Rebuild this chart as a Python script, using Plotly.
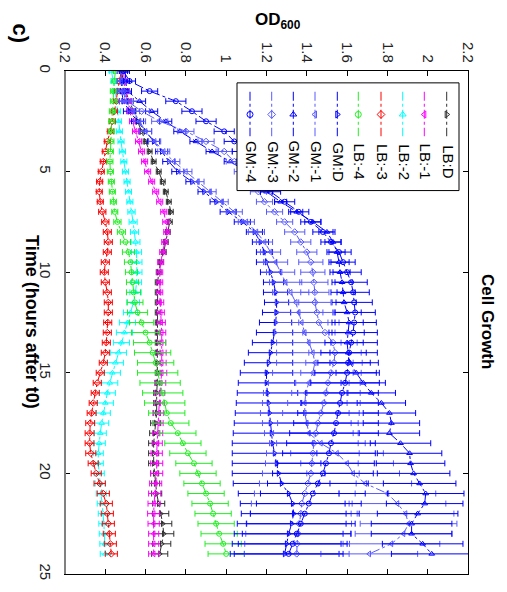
import plotly.graph_objects as go

# ---------------- data ----------------
hours = [0, 0.5, 1, 1.5, 2, 2.5, 3, 3.5, 4, 4.5,
         5, 5.5, 6, 6.5, 7, 7.5, 8, 8.5, 9, 9.5,
         10, 10.5, 11, 11.5, 12, 12.5, 13, 13.5, 14, 14.5,
         15, 15.5, 16, 16.5, 17, 17.5, 18, 18.5, 19, 19.5,
         20, 20.5, 21, 21.5, 22, 22.5, 23, 23.5, 24]

lb_d = [.48, .49, .50, .52, .54, .56, .58, .60, .62, .64,
        .665, .685, .70, .715, .725, .72, .71, .70, .69, .675,
        .665, .66, .66, .66, .66, .66, .66, .66, .66, .66,
        .66, .658, .655, .655, .655, .65, .645, .64, .64, .64,
        .645, .65, .655, .665, .675, .685, .69, .68, .67]
err_lb_d = [.01, .01, .012, .012, .012, .012, .012, .012, .012, .012,
            .012, .012, .012, .012, .012, .012, .012, .012, .012, .012,
            .012, .012, .012, .012, .012, .012, .012, .012, .012, .012,
            .012, .012, .015, .015, .018, .025, .025, .025, .025, .025,
            .02, .02, .025, .03, .04, .045, .05, .045, .04]

lb_1 = [.49, .495, .50, .51, .52, .535, .55, .565, .58, .595,
        .61, .63, .65, .67, .69, .70, .705, .695, .685, .675,
        .67, .67, .67, .672, .675, .678, .68, .68, .68, .68,
        .68, .675, .67, .668, .665, .662, .66, .658, .655, .655,
        .655, .65, .645, .642, .64, .64, .64, .64, .64]
err_lb_1 = [.01, .012, .015, .015, .015, .015, .015, .015, .015, .015,
            .015, .015, .015, .015, .015, .015, .015, .015, .015, .015,
            .015, .015, .015, .018, .018, .02, .02, .02, .022, .022,
            .025, .025, .025, .025, .025, .025, .025, .025, .028, .03,
            .03, .03, .03, .03, .03, .028, .025, .025, .025]

lb_2 = [.43, .44, .45, .455, .46, .465, .47, .478, .485, .492,
        .50, .508, .515, .522, .53, .538, .545, .55, .555, .557,
        .557, .555, .55, .54, .525, .51, .495, .48, .465, .45,
        .435, .422, .41, .40, .39, .382, .375, .37, .365, .365,
        .37, .375, .38, .385, .39, .393, .395, .398, .40]
err_lb_2 = [.01, .012, .015, .015, .015, .015, .015, .015, .015, .015,
            .015, .015, .015, .015, .018, .02, .02, .022, .025, .025,
            .025, .025, .028, .03, .035, .04, .04, .04, .04, .04,
            .04, .04, .04, .04, .035, .035, .03, .03, .025, .025,
            .025, .025, .025, .025, .025, .025, .025, .025, .025]

lb_3 = [.48, .47, .46, .455, .445, .435, .425, .41, .40, .39,
        .38, .372, .37, .375, .385, .40, .41, .415, .41, .40,
        .395, .40, .41, .415, .415, .412, .41, .405, .40, .39,
        .375, .36, .35, .34, .332, .325, .322, .322, .328, .34,
        .355, .372, .39, .405, .41, .415, .42, .425, .43]
err_lb_3 = [.01, .012, .015, .015, .015, .015, .015, .015, .015, .015,
            .015, .015, .015, .015, .018, .018, .02, .02, .02, .02,
            .02, .02, .02, .02, .02, .02, .02, .02, .02, .02,
            .02, .02, .02, .02, .022, .022, .022, .022, .025, .025,
            .025, .028, .03, .03, .03, .03, .03, .03, .03]

lb_4 = [.45, .445, .44, .44, .435, .432, .43, .428, .425, .423,
        .425, .43, .435, .44, .447, .46, .48, .50, .515, .525,
        .53, .535, .54, .547, .56, .58, .60, .62, .635, .65,
        .66, .672, .685, .695, .705, .725, .76, .785, .81, .84,
        .86, .88, .90, .92, .935, .95, .965, .985, 1.0]
err_lb_4 = [.01, .012, .015, .015, .015, .015, .015, .015, .015, .015,
            .015, .015, .015, .015, .015, .018, .02, .025, .03, .03,
            .03, .03, .035, .04, .05, .06, .07, .08, .09, .09,
            .1, .1, .1, .1, .09, .09, .09, .09, .09, .09,
            .09, .09, .09, .09, .09, .09, .09, .09, .09]

gm_d = [.48, .48, .48, .49, .52, .56, .60, .64, .68, .715,
        .76, .83, .89, .95, 1.01, 1.08, 1.14, 1.17, 1.19, 1.20,
        1.22, 1.235, 1.245, 1.25, 1.25, 1.245, 1.24, 1.23, 1.22, 1.21,
        1.20, 1.20, 1.205, 1.21, 1.215, 1.22, 1.225, 1.23, 1.24, 1.25,
        1.26, 1.275, 1.31, 1.33, 1.335, 1.325, 1.31, 1.30, 1.29]
err_gm_d = [.02, .02, .02, .02, .03, .03, .03, .03, .03, .03,
            .03, .03, .03, .03, .04, .04, .04, .04, .04, .05,
            .05, .05, .06, .06, .07, .08, .09, .10, .11, .12,
            .13, .14, .15, .16, .17, .18, .19, .2, .21, .22,
            .23, .24, .25, .26, .26, .27, .27, .27, .27]

gm_1 = [.48, .48, .49, .50, .54, .57, .60, .645, .69, .74,
        .80, .86, .92, .98, 1.04, 1.10, 1.15, 1.19, 1.22, 1.245,
        1.27, 1.295, 1.32, 1.345, 1.36, 1.375, 1.39, 1.41, 1.43, 1.44,
        1.43, 1.41, 1.395, 1.39, 1.39, 1.40, 1.41, 1.47, 1.55, 1.60,
        1.63, 1.69, 1.80, 1.85, 1.89, 1.905, 1.88, 1.82, 1.71]
err_gm_1 = [.02, .02, .02, .03, .03, .03, .03, .03, .03, .03,
            .03, .03, .03, .03, .04, .04, .04, .04, .05, .06,
            .07, .08, .09, .1, .12, .13, .15, .16, .18, .19,
            .2, .2, .21, .21, .22, .22, .22, .22, .23, .23,
            .23, .23, .24, .24, .24, .24, .24, .24, .24]

gm_2 = [.50, .50, .51, .57, .63, .70, .77, .85, .93, 1.02,
        1.10, 1.16, 1.20, 1.27, 1.35, 1.43, 1.50, 1.53, 1.55, 1.56,
        1.565, 1.575, 1.58, 1.585, 1.60, 1.61, 1.605, 1.60, 1.605, 1.615,
        1.645, 1.68, 1.72, 1.77, 1.81, 1.82, 1.81, 1.865, 1.91, 1.915,
        1.93, 1.96, 1.99, 1.985, 1.95, 1.92, 1.92, 1.975, 2.02]
err_gm_2 = [.02, .02, .02, .03, .03, .03, .03, .03, .03, .03,
            .03, .03, .03, .03, .03, .04, .04, .04, .04, .05,
            .05, .05, .06, .06, .07, .07, .08, .08, .09, .10,
            .10, .11, .12, .12, .13, .14, .15, .15, .16, .17,
            .18, .18, .19, .19, .2, .2, .2, .2, .2]

gm_3 = [.48, .48, .49, .51, .58, .67, .80, .90, .99, 1.04,
        1.08, 1.12, 1.16, 1.19, 1.24, 1.29, 1.34, 1.37, 1.40, 1.42,
        1.43, 1.435, 1.44, 1.44, 1.45, 1.46, 1.49, 1.53, 1.54, 1.535,
        1.52, 1.505, 1.495, 1.485, 1.47, 1.455, 1.445, 1.435, 1.43, 1.425,
        1.42, 1.405, 1.39, 1.375, 1.37, 1.362, 1.357, 1.352, 1.35]
err_gm_3 = [.02, .02, .03, .03, .04, .04, .04, .04, .04, .04,
            .04, .04, .04, .04, .04, .04, .05, .05, .05, .06,
            .06, .07, .07, .08, .09, .10, .11, .12, .13, .14,
            .15, .16, .17, .18, .19, .20, .21, .22, .23, .23,
            .24, .24, .25, .25, .25, .26, .26, .26, .26]

gm_4 = [.49, .52, .62, .75, .83, .90, .99, 1.04, 1.08, 1.11,
        1.14, 1.18, 1.22, 1.29, 1.36, 1.42, 1.48, 1.52, 1.56, 1.58,
        1.60, 1.62, 1.63, 1.635, 1.64, 1.635, 1.63, 1.62, 1.61, 1.605,
        1.60, 1.59, 1.575, 1.565, 1.555, 1.545, 1.535, 1.52, 1.51, 1.495,
        1.48, 1.455, 1.43, 1.41, 1.39, 1.37, 1.35, 1.33, 1.31]
err_gm_4 = [.02, .03, .04, .05, .05, .05, .05, .05, .05, .05,
            .05, .05, .05, .05, .05, .05, .05, .05, .06, .06,
            .07, .08, .08, .09, .10, .11, .12, .13, .14, .15,
            .16, .17, .18, .19, .20, .21, .22, .22, .23, .24,
            .25, .25, .26, .26, .27, .27, .27, .27, .27]

series_names = ["LB:D", "LB:-1", "LB:-2", "LB:-3", "LB:-4",
                "GM:D", "GM:-1", "GM:-2", "GM:-3", "GM:-4"]
series_values = [lb_d, lb_1, lb_2, lb_3, lb_4, gm_d, gm_1, gm_2, gm_3, gm_4]
series_errors = [err_lb_d, err_lb_1, err_lb_2, err_lb_3, err_lb_4,
                 err_gm_d, err_gm_1, err_gm_2, err_gm_3, err_gm_4]
series_colors = ["#303030", "#ff00ff", "#00ffff", "#ff0000", "#22ee22",
                 "#0000ff", "#5a5aff", "#0000ff", "#5a5aff", "#0000ff"]
series_symbols = ["triangle-right-open", "triangle-left-open", "triangle-up-open",
                  "diamond-open", "circle-open",
                  "triangle-right-open", "triangle-left-open", "triangle-up-open",
                  "diamond-open", "circle-open"]

od_ticks = [0.2, 0.4, 0.6, 0.8, 1.0, 1.2, 1.4, 1.6, 1.8, 2.0, 2.2]
od_tick_text = ["0.2", "0.4", "0.6", "0.8", "1", "1.2", "1.4", "1.6", "1.8", "2", "2.2"]
time_ticks = [0, 5, 10, 15, 20, 25]

# ---------------- layout geometry (pixels) ----------------
W, H = 507, 592
L, R, T, B = 65, 468, 71, 580

fig = go.Figure()

for name, vals, errs, col, sym in zip(series_names, series_values, series_errors,
                                      series_colors, series_symbols):
    fig.add_trace(go.Scatter(
        x=vals, y=hours, mode="lines+markers", name=name,
        line=dict(color=col, width=1, dash="dashdot"),
        marker=dict(symbol=sym, size=5, color=col, line=dict(width=1, color=col)),
        error_x=dict(type="data", array=errs, visible=True, color=col,
                     thickness=1, width=3),
        showlegend=False,
    ))

# ---------- manual rotated legend on an overlay (pixel) axis ----------
box_x0, box_x1, box_y0, box_y1 = 237, 459, 83, 192
fig.add_trace(go.Scatter(
    x=[box_x0, box_x1, box_x1, box_x0, box_x0],
    y=[box_y0, box_y0, box_y1, box_y1, box_y0],
    mode="lines", fill="toself", fillcolor="white",
    line=dict(color="black", width=1), xaxis="x2", yaxis="y2",
    showlegend=False, hoverinfo="skip"))

leg_x = [446.7, 424.3, 402.7, 381, 358.3, 337.3, 315, 293.3, 271.7, 250]
annotations = []
for i, name in enumerate(series_names):
    cx = leg_x[i]
    col = series_colors[i]
    fig.add_trace(go.Scatter(
        x=[cx, cx], y=[92, 137], mode="lines",
        line=dict(color=col, width=1, dash="dashdot"),
        xaxis="x2", yaxis="y2", showlegend=False, hoverinfo="skip"))
    fig.add_trace(go.Scatter(
        x=[cx], y=[115], mode="markers",
        marker=dict(symbol=series_symbols[i], size=6, color=col,
                    line=dict(width=1, color=col)),
        xaxis="x2", yaxis="y2", showlegend=False, hoverinfo="skip"))
    annotations.append(dict(
        x=cx + 1, y=163, xref="x2", yref="y2", text=name, showarrow=False,
        textangle=90, xanchor="center", yanchor="middle",
        font=dict(family="Arial, Liberation Sans, sans-serif", size=15, color="black")))


def px(xp):
    return (xp - L) / (R - L)


def py(yp):
    return 1 - (yp - T) / (B - T)


title_font = dict(family="Arial, Liberation Sans, sans-serif", color="black")
annotations += [
    dict(x=px(278), y=py(20), xref="paper", yref="paper",
         text="<b>OD<sub>600</sub></b>", showarrow=False,
         xanchor="center", yanchor="middle", font=dict(size=17, **title_font)),
    dict(x=px(488), y=py(324), xref="paper", yref="paper",
         text="<b>Cell Growth</b>", showarrow=False, textangle=90,
         xanchor="center", yanchor="middle", font=dict(size=17, **title_font)),
    dict(x=px(32), y=py(325), xref="paper", yref="paper",
         text="<b>Time (hours after t0)</b>", showarrow=False, textangle=90,
         xanchor="center", yanchor="middle", font=dict(size=18, **title_font)),
    dict(x=px(21), y=py(33), xref="paper", yref="paper",
         text="<b>c)</b>", showarrow=False, textangle=90,
         xanchor="center", yanchor="middle", font=dict(size=22, **title_font)),
]

tick_font = dict(family="Arial, Liberation Sans, sans-serif", size=15, color="#222")

fig.update_layout(
    width=W, height=H,
    margin=dict(l=L, r=W - R, t=T, b=H - B, pad=0),
    paper_bgcolor="white", plot_bgcolor="white",
    showlegend=False,
    xaxis=dict(range=[0.2, 2.2], side="top", tickmode="array",
               tickvals=od_ticks, ticktext=od_tick_text, tickangle=90,
               ticks="inside", ticklen=5, tickcolor="black", showline=True,
               linecolor="black", linewidth=1, mirror="ticks", showgrid=False,
               zeroline=False, tickfont=tick_font, ticklabelstandoff=2),
    yaxis=dict(range=[25, 0], tickmode="array", tickvals=time_ticks,
               tickangle=90, ticks="inside", ticklen=5, tickcolor="black",
               showline=True, linecolor="black", linewidth=1, mirror="ticks",
               showgrid=False, zeroline=False, tickfont=tick_font,
               ticklabelstandoff=6),
    xaxis2=dict(range=[L, R], overlaying="x", anchor="y2", visible=False,
                showgrid=False, zeroline=False),
    yaxis2=dict(range=[B, T], overlaying="y", anchor="x2", visible=False,
                showgrid=False, zeroline=False),
    annotations=annotations,
    shapes=[dict(type="line", xref="paper", yref="paper", x0=0, x1=0, y0=0, y1=1,
                 line=dict(color="#808080", width=2), layer="above")],
)

fig.write_html("out.html")
